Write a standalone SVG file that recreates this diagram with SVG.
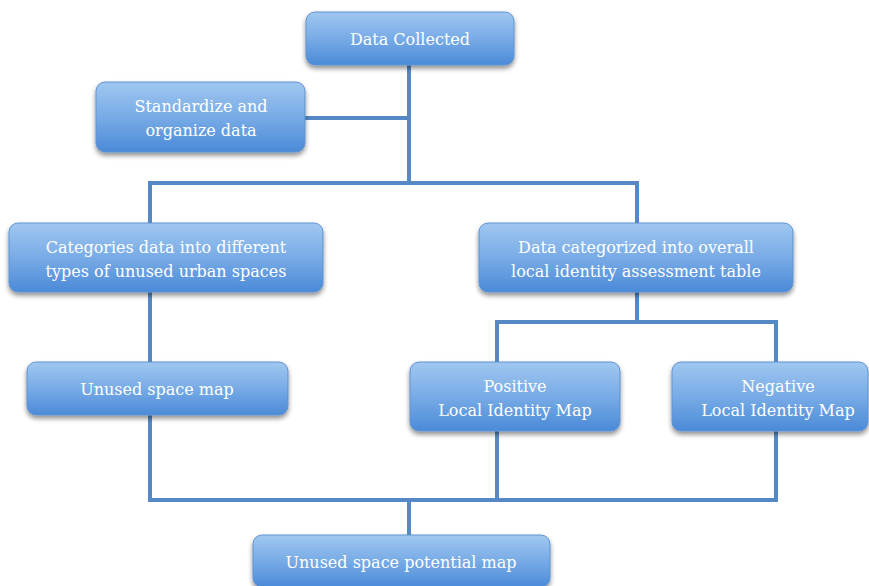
<svg xmlns="http://www.w3.org/2000/svg" width="869" height="586" viewBox="0 0 869 586">
<defs>
<linearGradient id="g" x1="0" y1="0" x2="0" y2="1">
<stop offset="0" stop-color="#a0c7f0"/>
<stop offset="0.5" stop-color="#78abe6"/>
<stop offset="1" stop-color="#4b8ad8"/>
</linearGradient>
<filter id="sh" x="-10%" y="-20%" width="120%" height="150%">
<feGaussianBlur in="SourceAlpha" stdDeviation="2.5"/>
<feOffset dx="0" dy="3" result="b"/>
<feComponentTransfer><feFuncA type="linear" slope="0.45"/></feComponentTransfer>
<feMerge><feMergeNode/><feMergeNode in="SourceGraphic"/></feMerge>
</filter>
</defs>
<style>
.box{fill:url(#g);stroke:#5f93d0;stroke-width:1;filter:url(#sh)}
.t{font-family:"DejaVu Serif","Liberation Serif",serif;font-size:16px;fill:#ffffff;text-anchor:middle}
.c{fill:none;stroke:#5589c6;stroke-width:4;stroke-linejoin:miter}
</style>
<rect width="869" height="586" fill="#ffffff"/>
<g id="connectors">
<path class="c" d="M409 65 V183"/>
<path class="c" d="M305 118 H409"/>
<path class="c" d="M150 223 V183 H637 V223"/>
<path class="c" d="M150 292 V362"/>
<path class="c" d="M637 292 V322"/>
<path class="c" d="M497 362 V322 H776 V362"/>
<path class="c" d="M150 415 V500 H776 V431"/>
<path class="c" d="M497 431 V500"/>
<path class="c" d="M409 500 V535"/>
</g>
<g id="n-data-collected">
<rect class="box" x="306" y="12" width="208" height="53" rx="9"/>
<text class="t" x="410" y="45">Data Collected</text>
</g>
<g id="n-standardize">
<rect class="box" x="96" y="82" width="209" height="70" rx="9"/>
<text class="t" x="201" y="112">Standardize and</text>
<text class="t" x="201" y="136">organize data</text>
</g>
<g id="n-categories">
<rect class="box" x="9" y="223" width="314" height="69" rx="9"/>
<text class="t" x="166" y="253">Categories data into different</text>
<text class="t" x="166" y="277">types of unused urban spaces</text>
</g>
<g id="n-assessment">
<rect class="box" x="479" y="223" width="314" height="69" rx="9"/>
<text class="t" x="636" y="253">Data categorized into overall</text>
<text class="t" x="636" y="277">local identity assessment table</text>
</g>
<g id="n-unused-map">
<rect class="box" x="27" y="362" width="261" height="53" rx="9"/>
<text class="t" x="157" y="395">Unused space map</text>
</g>
<g id="n-positive">
<rect class="box" x="410" y="362" width="210" height="69" rx="9"/>
<text class="t" x="515" y="392">Positive</text>
<text class="t" x="515" y="416">Local Identity Map</text>
</g>
<g id="n-negative">
<rect class="box" x="672" y="362" width="196" height="69" rx="9"/>
<text class="t" x="778" y="392">Negative</text>
<text class="t" x="778" y="416">Local Identity Map</text>
</g>
<g id="n-potential">
<rect class="box" x="253" y="535" width="297" height="52" rx="9"/>
<text class="t" x="401" y="568">Unused space potential map</text>
</g>
</svg>
